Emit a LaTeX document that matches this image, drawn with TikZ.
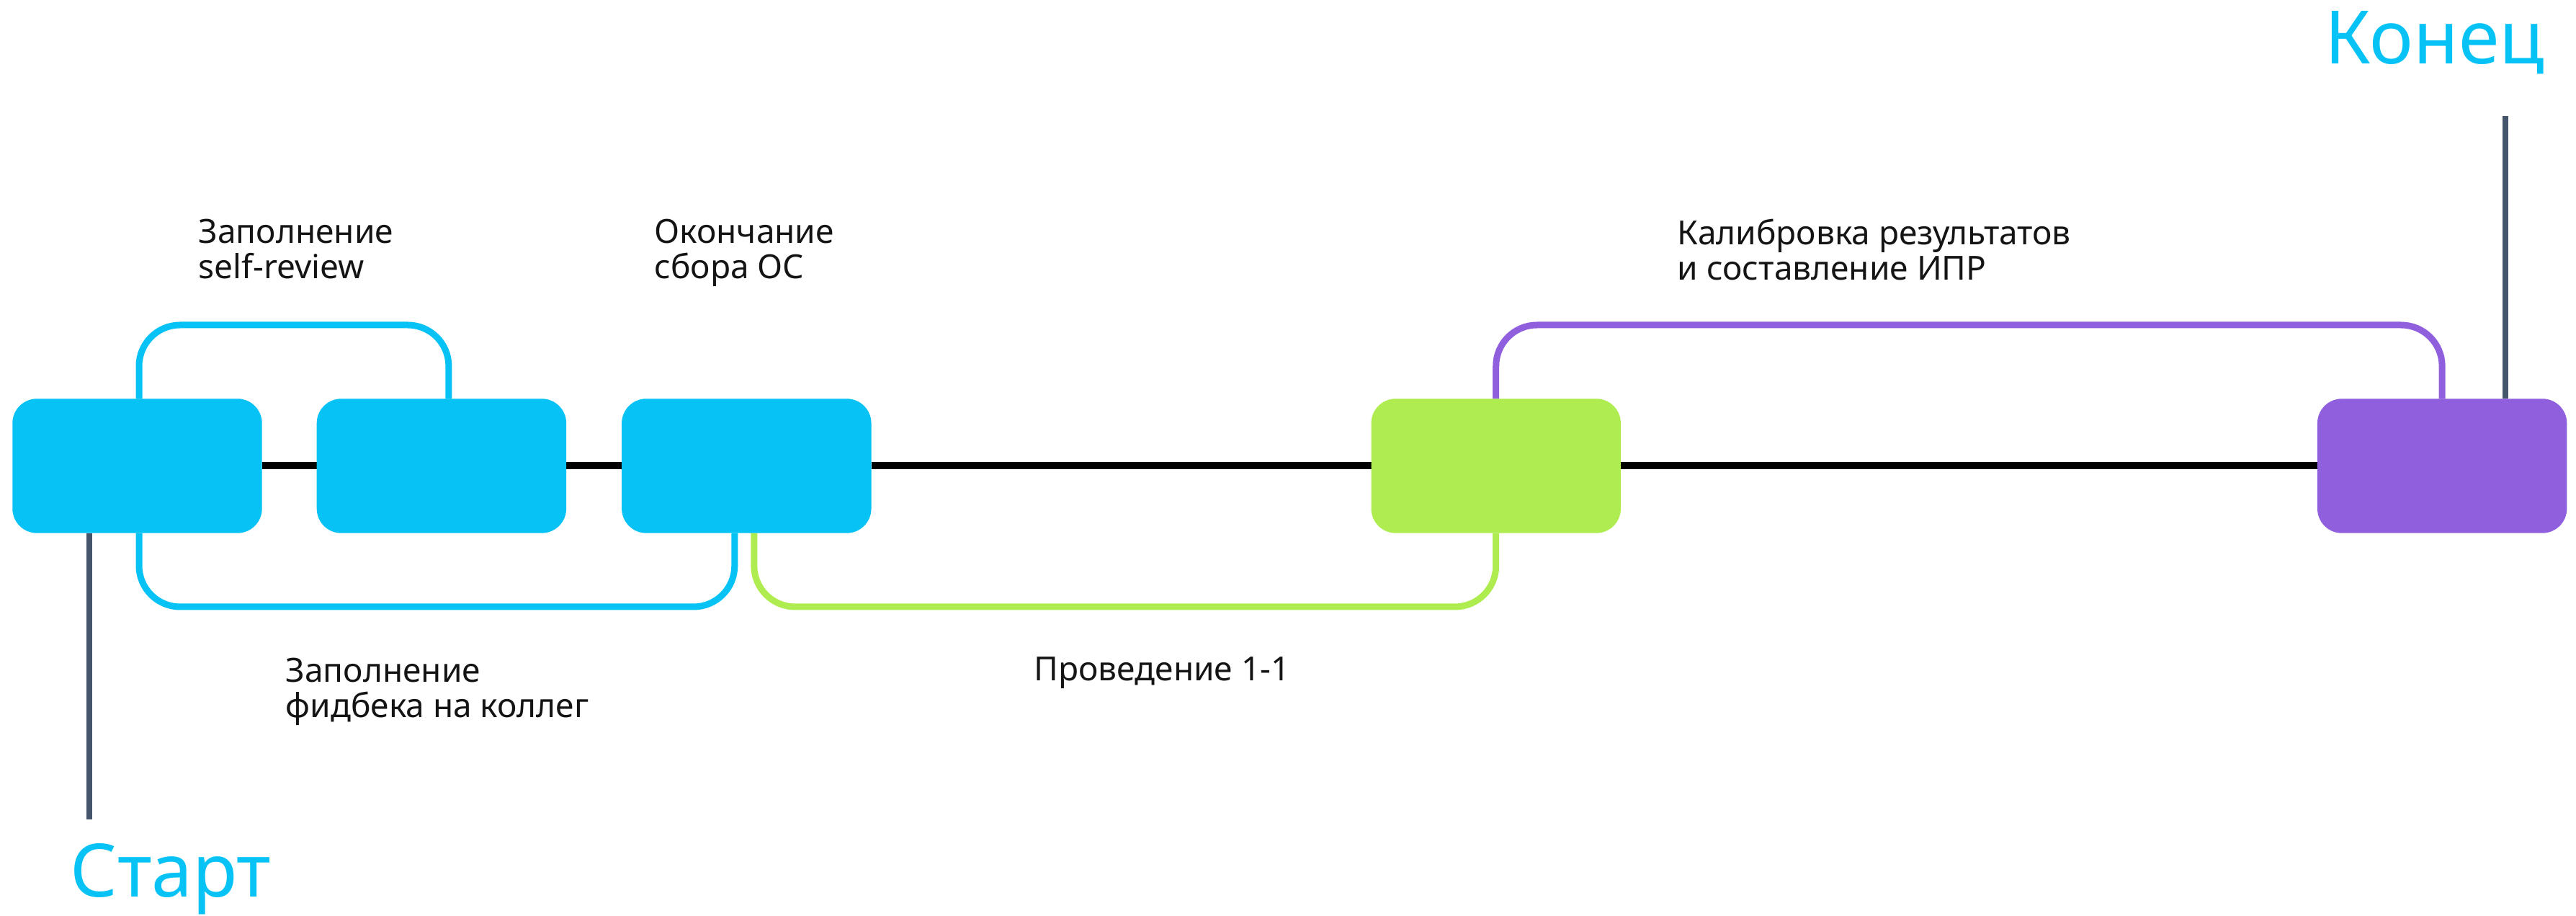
\documentclass[tikz,border=0pt]{standalone}
\usepackage{fontspec}
\setmainfont{Noto Sans}
\usetikzlibrary{positioning}

\definecolor{stagecyan}{RGB}{6,194,245}
\definecolor{stagegreen}{RGB}{174,236,80}
\definecolor{stagepurple}{RGB}{144,95,221}
\definecolor{pingray}{RGB}{69,85,107}
\definecolor{labelink}{RGB}{20,20,20}

\begin{document}
\begin{tikzpicture}[
    node distance=0.76cm,
    milestone/.style={rectangle, rounded corners=3.4mm, minimum width=3.45cm, minimum height=1.85cm, inner sep=0pt},
    timeline/.style={line width=1mm, black},
    bracket/.style={line width=0.9mm, rounded corners=5.7mm},
    pin/.style={line width=0.85mm, pingray},
    stagelabel/.style={anchor=base west, inner sep=0pt, align=left, text=labelink, font=\fontsize{13.1}{13.95}\selectfont},
    endlabel/.style={anchor=base west, inner sep=0pt, text=stagecyan, font=\fontsize{29.1}{34}\selectfont}
    ]
    \useasboundingbox (0,0) rectangle (35.76,12.71);

    % milestones on the time axis
    \node[milestone, fill=stagecyan] (kickoff) at (1.905,6.245) {};
    \node[milestone, fill=stagecyan] (selfrev) [right=of kickoff] {};
    \node[milestone, fill=stagecyan] (osdone) [right=0.77cm of selfrev] {};
    \node[milestone, fill=stagegreen] (oneone) [right=6.94cm of osdone] {};
    \node[milestone, fill=stagepurple] (calib) [right=9.67cm of oneone] {};

    % rails for the brackets and free ends of the pins
    \coordinate (toprail) at (0,8.20);
    \coordinate (botrail) at (0,4.29);
    \coordinate (startpin) at (1.24,1.34);
    \coordinate (endpin) at (34.78,11.10);

    \draw[timeline] (kickoff) -- (selfrev);
    \draw[timeline] (selfrev) -- (osdone);
    \draw[timeline] (osdone) -- (oneone);
    \draw[timeline] (oneone) -- (calib);

    \draw[bracket, stagecyan] ([xshift=0.25mm]kickoff.north) |- ([xshift=1mm]toprail -| selfrev.north) -- ([xshift=1mm]selfrev.north);
    \draw[bracket, stagecyan] ([xshift=0.25mm]kickoff.south) |- ([xshift=-1.65mm]botrail -| osdone.south) -- ([xshift=-1.65mm]osdone.south);
    \draw[bracket, stagegreen] ([xshift=1.05mm]osdone.south) |- (botrail -| oneone.south) -- (oneone.south);
    \draw[bracket, stagepurple] (oneone.north) |- (toprail -| calib.north) -- (calib.north);

    \draw[pin] (startpin |- kickoff.south) -- (startpin);
    \draw[pin] (endpin |- calib.north) -- (endpin);

    % redraw the milestones over the lines
    \foreach \m/\c in {kickoff/stagecyan, selfrev/stagecyan, osdone/stagecyan, oneone/stagegreen, calib/stagepurple}
        \fill[\c, rounded corners=3.4mm] (\m.south west) rectangle (\m.north east);

    % stage captions (base = last line)
    \node[stagelabel] (selfrevtext) at (2.75,8.84) {Заполнение\\self-review};
    \node[stagelabel] (osdonetext) at (9.08,8.84) {Окончание\\сбора ОС};
    \node[stagelabel] (calibtext) at (23.28,8.82) {Калибровка результатов\\и составление ИПР};
    \node[stagelabel] (feedbacktext) at (3.96,2.75) {Заполнение\\фидбека на коллег};
    \node[stagelabel] (oneonetext) at (14.35,3.26) {Проведение 1-1};

    \node[endlabel] (starttext) at (0.97,0.26) {Старт};
    \node[endlabel] (endtext) at (32.27,11.82) {Конец};
\end{tikzpicture}
\end{document}
